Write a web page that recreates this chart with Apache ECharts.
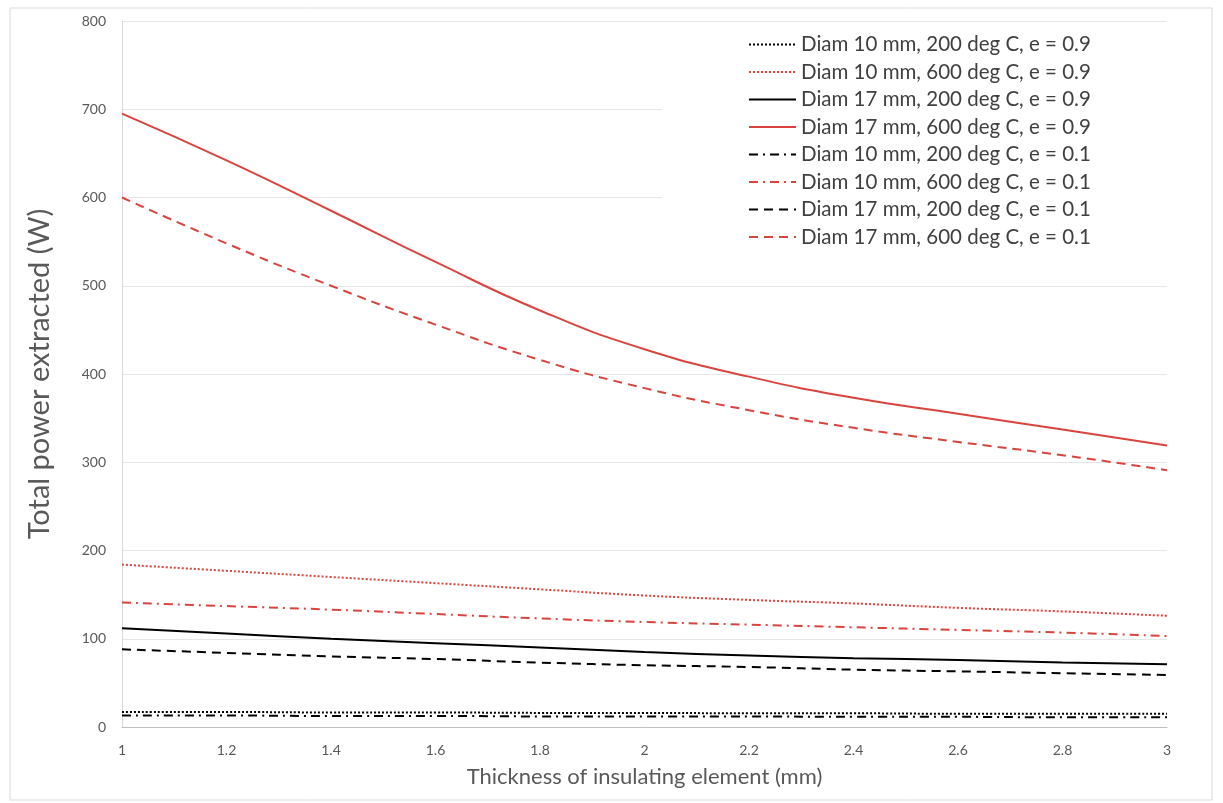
<!DOCTYPE html>
<html>
<head>
<meta charset="utf-8">
<script src="https://cdn.jsdelivr.net/npm/echarts@6/dist/echarts.min.js"></script>
<style>
  html, body { margin: 0; padding: 0; background: #fff; }
  #chart { width: 1223px; height: 803px; }
</style>
</head>
<body>
<div id="chart"></div>
<script>
// thickness of insulating element (mm)
var thickness = [1, 1.2, 1.4, 1.6, 1.8, 2, 2.2, 2.4, 2.6, 2.8, 3];

// total power extracted (W)
var d10t200e09 = [17, 17, 16.5, 16.5, 16, 16, 15.5, 15.5, 15, 15, 15];
var d10t600e09 = [184, 177, 170, 163, 156, 149, 144, 140, 135, 131, 126];
var d17t200e09 = [112, 106, 100, 95, 90, 85, 81, 78, 76, 73, 71];
var d17t600e09 = [695, 642, 585, 527, 472, 428, 397, 373, 355, 337, 319];
var d10t200e01 = [13, 13, 12.5, 12.5, 12, 12, 12, 11.5, 11.5, 11, 11];
var d10t600e01 = [141, 137, 133, 128, 123, 119, 116, 113, 110, 107, 103];
var d17t200e01 = [88, 84, 80, 77, 73, 70, 68, 65, 63, 61, 59];
var d17t600e01 = [600, 548, 500, 456, 416, 384, 359, 339, 323, 308, 291];

var seriesNames = [
  'Diam 10 mm, 200 deg C, e = 0.9',
  'Diam 10 mm, 600 deg C, e = 0.9',
  'Diam 17 mm, 200 deg C, e = 0.9',
  'Diam 17 mm, 600 deg C, e = 0.9',
  'Diam 10 mm, 200 deg C, e = 0.1',
  'Diam 10 mm, 600 deg C, e = 0.1',
  'Diam 17 mm, 200 deg C, e = 0.1',
  'Diam 17 mm, 600 deg C, e = 0.1'
];

var black = '#000000';
var red = '#d9443f';
var dotted = [2, 2];
var dashDot = [9, 5, 2, 5];
var dashed = [9, 6];

function eachItem(arr, fn) {
  for (var i = 0; i < arr.length; i++) fn(i, arr[i]);
}

var makeLine = function (name, values, color, type) {
  var data = [];
  eachItem(values, function (k, v) {
    data.push([thickness[k], v]);
  });
  return {
    name: name,
    type: 'line',
    smooth: true,
    symbol: 'none',
    data: data,
    lineStyle: { color: color, width: 2, type: type },
    itemStyle: { color: color }
  };
};

var font = 'Lato, "Open Sans", sans-serif';

var options = {
  animation: false,
  textStyle: { fontFamily: font },
  graphic: [
    {
      type: 'rect',
      shape: { x: 10, y: 8, width: 1202, height: 792 },
      style: { fill: 'none', stroke: '#d9d9d9', lineWidth: 1 },
      z: 0
    },
    {
      type: 'rect',
      shape: { x: 662, y: 26, width: 505, height: 230 },
      style: { fill: '#ffffff' },
      z: 1
    }
  ],
  legend: {
    orient: 'vertical',
    left: 743,
    top: 29,
    itemWidth: 47,
    itemHeight: 14,
    itemGap: 6.5,
    data: seriesNames,
    itemStyle: { opacity: 0 },
    textStyle: { fontSize: 20.5, color: '#404040', fontFamily: font }
  },
  grid: {
    left: 122,
    right: 56,
    top: 21,
    bottom: 76
  },
  xAxis: {
    type: 'value',
    min: 1,
    max: 3,
    interval: 0.2,
    name: 'Thickness of insulating element (mm)',
    nameLocation: 'middle',
    nameGap: 39,
    nameTextStyle: { fontSize: 22, color: '#595959' },
    axisLine: { show: true, lineStyle: { color: '#bfbfbf', width: 1 } },
    axisTick: { show: false },
    splitLine: { show: false },
    axisLabel: { color: '#595959', fontSize: 14, margin: 16 }
  },
  yAxis: {
    type: 'value',
    min: 0,
    max: 800,
    interval: 100,
    name: 'Total power extracted (W)',
    nameLocation: 'middle',
    nameGap: 68,
    nameTextStyle: { fontSize: 29, color: '#595959' },
    axisLine: { show: true, lineStyle: { color: '#d9d9d9', width: 1 } },
    axisTick: { show: false },
    splitLine: { show: true, lineStyle: { color: '#e6e6e6', width: 1 } },
    axisLabel: { color: '#595959', fontSize: 14, margin: 16 }
  },
  series: [
    makeLine(seriesNames[0], d10t200e09, black, dotted),
    makeLine(seriesNames[1], d10t600e09, red, dotted),
    makeLine(seriesNames[2], d17t200e09, black, 'solid'),
    makeLine(seriesNames[3], d17t600e09, red, 'solid'),
    makeLine(seriesNames[4], d10t200e01, black, dashDot),
    makeLine(seriesNames[5], d10t600e01, red, dashDot),
    makeLine(seriesNames[6], d17t200e01, black, dashed),
    makeLine(seriesNames[7], d17t600e01, red, dashed)
  ]
};

var chart = echarts.init(document.getElementById('chart'));
chart.setOption(options);
</script>
</body>
</html>
